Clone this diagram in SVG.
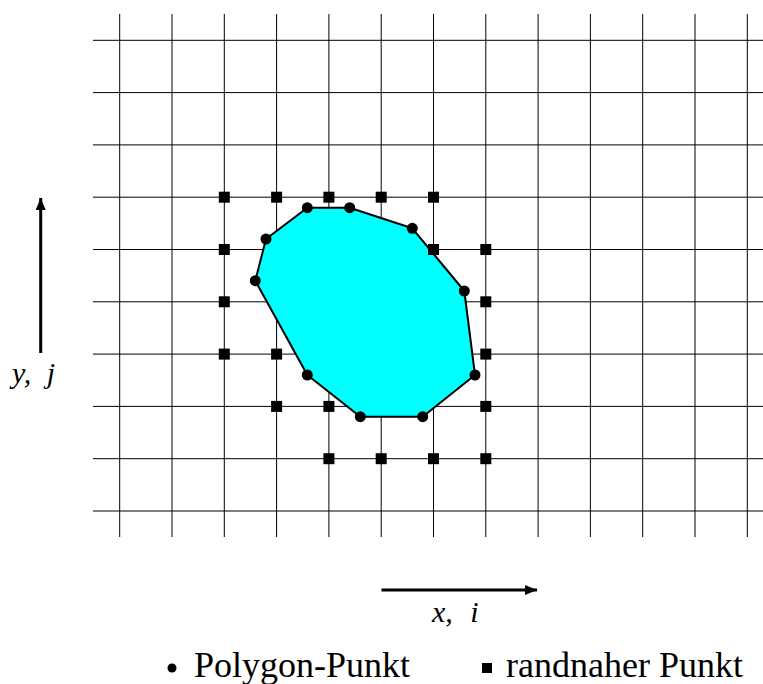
<svg xmlns="http://www.w3.org/2000/svg" width="763" height="684" viewBox="0 0 763 684">
<style>
.g{stroke:#000;stroke-width:1;fill:none}
.poly{fill:#00FFFF;stroke:#000;stroke-width:2;stroke-linejoin:round}
.sq{fill:#000}
.dot{fill:#000}
.ax{stroke:#000;stroke-width:3;fill:none}
.lbl{font-family:"Liberation Serif","DejaVu Serif",serif;font-style:italic;font-size:30px;fill:#000}
.leg{font-family:"Liberation Serif","DejaVu Serif",serif;font-size:36px;fill:#000}
</style>
<defs>
<marker id="ah" markerUnits="userSpaceOnUse" markerWidth="14" markerHeight="12" refX="12" refY="5" orient="auto">
<path d="M0,0 L12,5 L0,10 Z" fill="#000"/>
</marker>
</defs>
<rect width="763" height="684" fill="#fff"/>
<g id="grid" class="g">
<path d="M119.7,14V537M172,14V537M224.3,14V537M276.6,14V537M328.9,14V537M381.2,14V537M433.5,14V537M485.8,14V537M538.1,14V537M590.4,14V537M642.7,14V537M695,14V537M747.3,14V537"/>
<path d="M93,40.3H763M93,92.6H763M93,144.9H763M93,197.2H763M93,249.5H763M93,301.8H763M93,354.1H763M93,406.4H763M93,458.7H763M93,511H763"/>
</g>
<g id="polygon">
<polygon class="poly" points="307.3,207.7 349.7,207.7 412.3,228.3 464.3,291 475,375 422.7,416.7 360.3,416.7 307.3,375 255.3,280.7 266,239"/>
</g>
<g id="polygon-points" class="dot">
<circle cx="307.3" cy="207.7" r="5.5"/>
<circle cx="349.7" cy="207.7" r="5.5"/>
<circle cx="412.3" cy="228.3" r="5.5"/>
<circle cx="464.3" cy="291" r="5.5"/>
<circle cx="475" cy="375" r="5.5"/>
<circle cx="422.7" cy="416.7" r="5.5"/>
<circle cx="360.3" cy="416.7" r="5.5"/>
<circle cx="307.3" cy="375" r="5.5"/>
<circle cx="255.3" cy="280.7" r="5.5"/>
<circle cx="266" cy="239" r="5.5"/>
</g>
<g id="boundary-points" class="sq">
<rect x="218.8" y="191.7" width="11" height="11"/>
<rect x="271.1" y="191.7" width="11" height="11"/>
<rect x="323.4" y="191.7" width="11" height="11"/>
<rect x="375.7" y="191.7" width="11" height="11"/>
<rect x="428" y="191.7" width="11" height="11"/>
<rect x="218.8" y="244" width="11" height="11"/>
<rect x="428" y="244" width="11" height="11"/>
<rect x="480.3" y="244" width="11" height="11"/>
<rect x="218.8" y="296.3" width="11" height="11"/>
<rect x="480.3" y="296.3" width="11" height="11"/>
<rect x="218.8" y="348.6" width="11" height="11"/>
<rect x="271.1" y="348.6" width="11" height="11"/>
<rect x="480.3" y="348.6" width="11" height="11"/>
<rect x="271.1" y="400.9" width="11" height="11"/>
<rect x="323.4" y="400.9" width="11" height="11"/>
<rect x="480.3" y="400.9" width="11" height="11"/>
<rect x="323.4" y="453.2" width="11" height="11"/>
<rect x="375.7" y="453.2" width="11" height="11"/>
<rect x="428" y="453.2" width="11" height="11"/>
<rect x="480.3" y="453.2" width="11" height="11"/>
</g>
<g id="axes">
<line class="ax" x1="40.7" y1="353" x2="40.7" y2="198" marker-end="url(#ah)"/>
<line class="ax" x1="381.5" y1="590" x2="537" y2="590" marker-end="url(#ah)"/>
</g>
<g id="axis-labels">
<text class="lbl" x="12" y="383" style="word-spacing:8px">y, j</text>
<text class="lbl" x="432" y="622" style="word-spacing:10px">x, i</text>
</g>
<g id="legend">
<circle cx="172" cy="668" r="4.5" fill="#000"/>
<text class="leg" x="194" y="677">Polygon-Punkt</text>
<rect x="482" y="663" width="10" height="10" fill="#000"/>
<text class="leg" x="506" y="677">randnaher Punkt</text>
</g>
</svg>
